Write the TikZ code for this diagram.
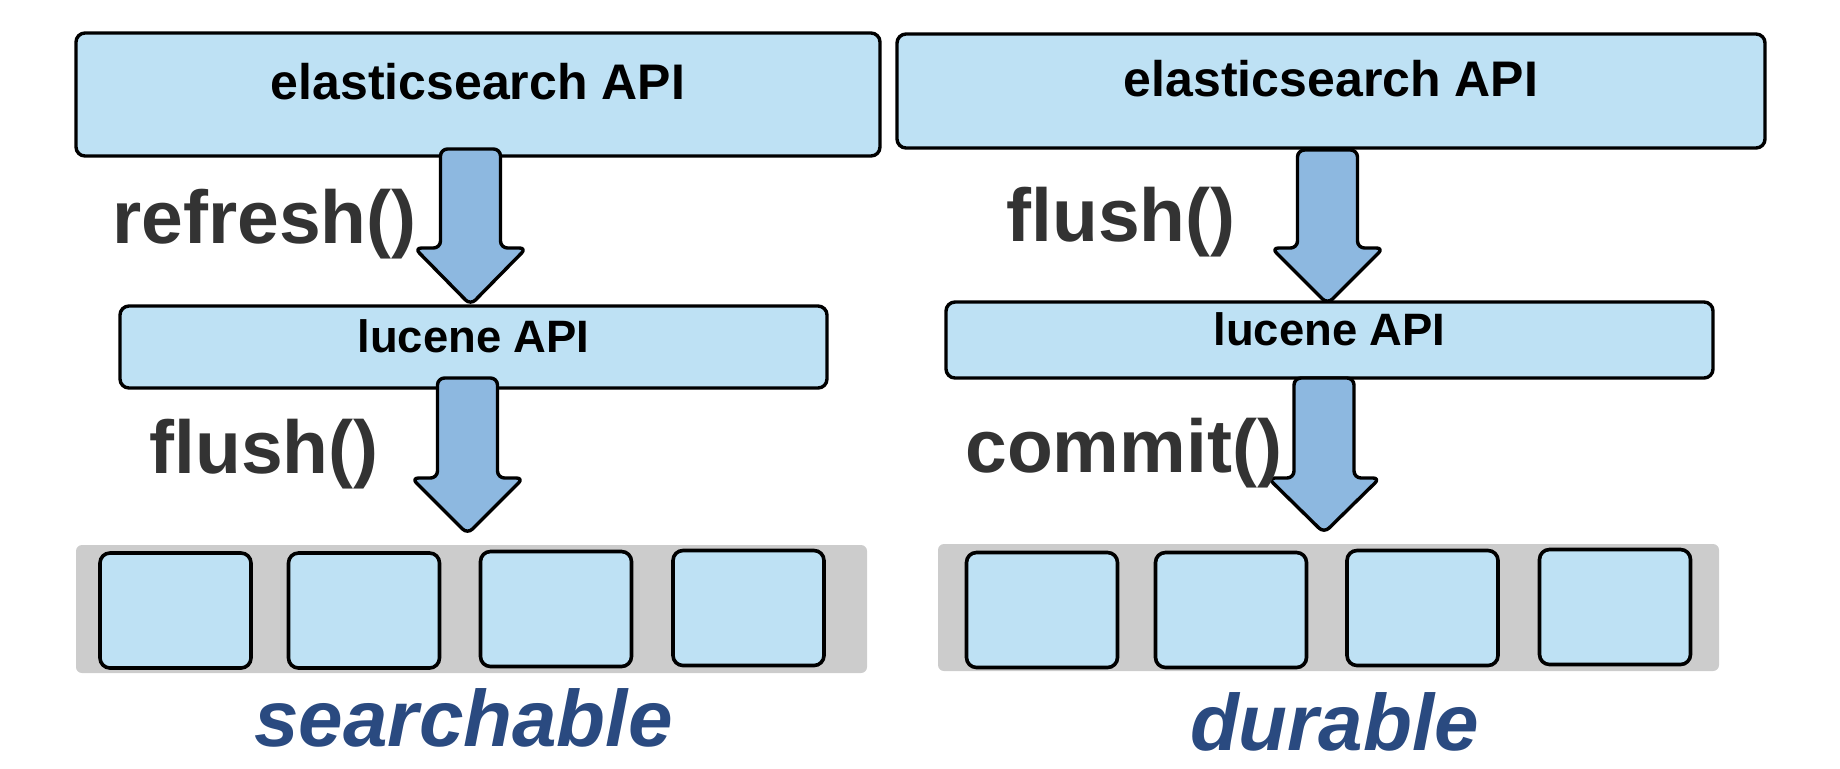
\documentclass[tikz,border=0pt]{standalone}
\usepackage{fontspec}
\setmainfont{Liberation Sans}
\definecolor{boxblue}{HTML}{BEE1F4}
\definecolor{arrowblue}{HTML}{8DB8E0}
\definecolor{bargrey}{HTML}{CCCCCC}
\definecolor{labelgrey}{HTML}{333333}
\definecolor{titleblue}{HTML}{2A4A80}
\newcommand\blockarrow[4]{% centre x, top y, head y, tip y
  \draw[arrowbody] (#1-30,#2) -- (#1-30,#3) -- (#1-56,#3) -- (#1,#4) -- (#1+56,#3) -- (#1+30,#3) -- (#1+30,#2) -- cycle;}
\begin{document}
\begin{tikzpicture}[x=0.5pt,y=-0.5pt,
  apibox/.style={draw=black, line width=1.7pt, fill=boxblue, rounded corners=4.5pt,
    font=\bfseries, text height=0.73em, text depth=0.2em, inner sep=0pt},
  segbox/.style={draw=black, line width=1.8pt, fill=boxblue, rounded corners=5pt,
    minimum width=75.5pt, minimum height=57.5pt, inner sep=0pt},
  greybar/.style={fill=bargrey, rounded corners=3pt, inner sep=0pt},
  arrowbody/.style={draw=black, line width=1.7pt, fill=arrowblue, rounded corners=3.5pt, line join=round},
  calllabel/.style={font=\fontsize{37.5}{45}\selectfont\bfseries, text=labelgrey, inner sep=0pt, anchor=base west},
  resultlabel/.style={font=\fontsize{40}{48}\selectfont\bfseries\itshape, text=titleblue, inner sep=0pt, anchor=base}]
\useasboundingbox (0,0) rectangle (1840,768);

% segment bars
\node[greybar, minimum width=395.5pt, minimum height=64pt] (bar1) at (471.5,609) {};
\node[greybar, minimum width=390.5pt, minimum height=63.5pt] (bar2) at (1328.5,607.5) {};
\node[segbox] (s11) at (175.5,610.5) {};
\node[segbox] (s12) at (364,610.5) {};
\node[segbox] (s13) at (556,609) {};
\node[segbox] (s14) at (748.5,608) {};
\node[segbox] (s21) at (1042,610) {};
\node[segbox] (s22) at (1231,610) {};
\node[segbox] (s23) at (1422.5,608) {};
\node[segbox] (s24) at (1615,607) {};

% API boxes
\node[apibox, minimum width=402pt, minimum height=61.5pt, font=\fontsize{25}{30}\selectfont\bfseries] (es1) at (478,94.5) {elasticsearch API};
\node[apibox, minimum width=434pt, minimum height=57pt, font=\fontsize{25}{30}\selectfont\bfseries] (es2) at (1331,91) {elasticsearch API};
\node[apibox, minimum width=353.5pt, minimum height=41pt, font=\fontsize{22.7}{27}\selectfont\bfseries] (lu1) at (473.5,347) {lucene API};
\node[apibox, minimum width=383.5pt, minimum height=38pt, font=\fontsize{22.7}{27}\selectfont\bfseries] (lu2) at (1329.5,340) {lucene API};

% block arrows
\blockarrow{470.5}{149}{248}{305}
\blockarrow{467.5}{378}{478}{534}
\blockarrow{1327.5}{150}{248}{304}
\blockarrow{1324}{378}{478}{533}

% call labels
\node[calllabel] (refresh) at (112,243) {refresh()};
\node[calllabel] (flush1) at (149,473) {flush()};
\node[calllabel] (flush2) at (1006,241) {flush()};
\node[calllabel] (commit) at (965,472) {commit()};

% result labels
\node[resultlabel] (searchable) at (463.5,746) {searchable};
\node[resultlabel] (durable) at (1334.5,750) {durable};
\end{tikzpicture}
\end{document}
